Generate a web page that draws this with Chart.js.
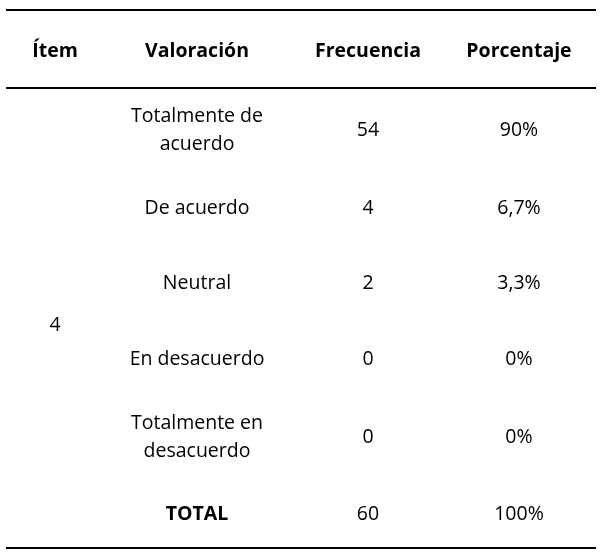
<!DOCTYPE html>
<html><head><meta charset="utf-8">
<script src="https://cdn.jsdelivr.net/npm/chart.js@4"></script>
<style>html,body{margin:0;padding:0;background:#fff}</style>
</head><body>
<canvas id="c" width="602" height="554"></canvas>
<script>
const headers = ["Ítem", "Valoración", "Frecuencia", "Porcentaje"];
const item = "4";
const categories = [["Totalmente de","acuerdo"],["De acuerdo"],["Neutral"],["En desacuerdo"],["Totalmente en","desacuerdo"],["TOTAL"]];
const frequencies = [54, 4, 2, 0, 0, 60];
const percentages = ["90%", "6,7%", "3,3%", "0%", "0%", "100%"];

const colX = [55, 197, 368, 519];
const rowY = [130, 208, 283, 359, 437, 514];
const font = '"Open Sans", sans-serif';
const fs = '19.5px ';

const tablePlugin = {
  id: 'table',
  afterDraw(chart) {
    const ctx = chart.ctx;
    ctx.save();
    ctx.fillStyle = '#fff';
    ctx.fillRect(0, 0, chart.width, chart.height);
    ctx.strokeStyle = '#000';
    ctx.lineWidth = 2;
    [10, 88, 548].forEach(y => { ctx.beginPath(); ctx.moveTo(6, y); ctx.lineTo(596, y); ctx.stroke(); });
    ctx.fillStyle = '#000';
    ctx.textAlign = 'center';
    ctx.textBaseline = 'middle';
    ctx.font = 'bold ' + fs + font;
    headers.forEach((h, i) => ctx.fillText(h, colX[i], 51));
    ctx.font = fs + font;
    ctx.fillText(item, colX[0], 325);
    categories.forEach((lines, r) => {
      const last = r === categories.length - 1;
      ctx.font = (last ? 'bold ' : '') + fs + font;
      const y0 = rowY[r] - (lines.length - 1) * 14;
      lines.forEach((l, k) => ctx.fillText(l, colX[1], y0 + k * 28));
      ctx.font = fs + font;
      ctx.fillText(String(frequencies[r]), colX[2], rowY[r]);
      ctx.fillText(percentages[r], colX[3], rowY[r]);
    });
    ctx.restore();
  }
};

new Chart(document.getElementById('c'), {
  type: 'bar',
  data: { labels: categories.map(c => c.join(' ')), datasets: [{ data: frequencies, backgroundColor: 'rgba(0,0,0,0)' }] },
  options: {
    responsive: false, animation: false, devicePixelRatio: 1,
    plugins: { legend: { display: false }, tooltip: { enabled: false } },
    scales: { x: { display: false }, y: { display: false } }
  },
  plugins: [tablePlugin]
});
</script>
</body></html>
